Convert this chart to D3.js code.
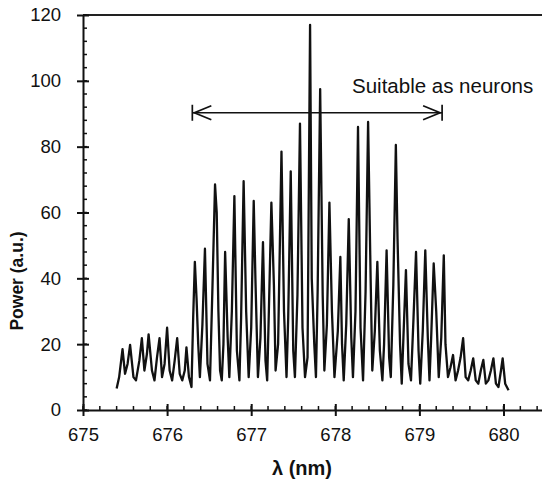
<!DOCTYPE html>
<html>
<head>
<meta charset="utf-8">
<script src="https://cdn.jsdelivr.net/npm/d3@7"></script>
<style>
  body { margin: 0; background: #fff; }
  svg text { font-family: "Liberation Sans", Arial, sans-serif; fill: #111; }
  .label { font-weight: bold; }
  .tick-label { font-size: 18.5px; }
</style>
</head>
<body>
<svg id="chart" width="542" height="484"></svg>
<script>
// spectrum vertices
const wavelength = [
  675.40, 675.43, 675.47, 675.50, 675.53, 675.56, 675.60, 675.63, 675.67, 675.70,
  675.73, 675.76, 675.78, 675.82, 675.85, 675.88, 675.91, 675.94, 675.97, 676.00,
  676.03, 676.06, 676.09, 676.12, 676.15, 676.18, 676.21, 676.23, 676.26, 676.29,
  676.31, 676.33, 676.35, 676.37, 676.39, 676.42, 676.45, 676.48, 676.51, 676.54,
  676.57, 676.59, 676.61, 676.63, 676.65, 676.67, 676.69, 676.72, 676.74, 676.77,
  676.80, 676.83, 676.86, 676.88, 676.91, 676.94, 676.97, 677.00, 677.03, 677.05,
  677.08, 677.11, 677.14, 677.17, 677.19, 677.21, 677.24, 677.27, 677.29, 677.32,
  677.36, 677.39, 677.42, 677.44, 677.47, 677.50, 677.52, 677.55, 677.58, 677.61,
  677.64, 677.67, 677.70, 677.72, 677.75, 677.77, 677.79, 677.82, 677.85, 677.87,
  677.90, 677.93, 677.96, 677.99, 678.03, 678.06, 678.08, 678.10, 678.13, 678.16,
  678.19, 678.21, 678.24, 678.27, 678.30, 678.33, 678.36, 678.39, 678.42, 678.44,
  678.47, 678.50, 678.53, 678.56, 678.58, 678.61, 678.64, 678.66, 678.69, 678.72,
  678.74, 678.77, 678.79, 678.81, 678.84, 678.87, 678.90, 678.93, 678.96, 678.99,
  679.01, 679.04, 679.07, 679.10, 679.12, 679.14, 679.17, 679.20, 679.23, 679.26,
  679.29, 679.31, 679.34, 679.37, 679.40, 679.43, 679.46, 679.49, 679.52, 679.55,
  679.58, 679.61, 679.64, 679.67, 679.70, 679.73, 679.76, 679.79, 679.82, 679.85,
  679.88, 679.91, 679.94, 679.97, 679.99, 680.02, 680.06
];
const power = [
  6.5, 10, 18.5, 11, 14, 19.8, 10, 9, 15, 21.8,
  12, 17, 23, 12, 9, 16, 21.8, 10, 14, 25,
  12, 9, 15, 21.8, 11, 9, 12, 19, 10, 7,
  28, 45, 34, 20, 10, 26, 49, 14, 9, 38,
  68.5, 60, 30, 12, 9, 20, 48, 22, 10, 30,
  65, 18, 9, 28, 69.5, 30, 10, 25, 63.5, 40,
  10, 22, 51, 15, 9, 30, 63, 38, 12, 20,
  78.5, 30, 10, 28, 72.5, 18, 10, 35, 87, 25,
  10, 16, 117, 40, 20, 10, 36, 97.5, 35, 12,
  26, 63, 30, 10, 24, 46.5, 20, 9, 26, 58,
  22, 10, 30, 86, 25, 9, 36, 87.5, 40, 12,
  24, 45, 18, 9, 20, 48.5, 16, 10, 38, 80.5,
  52, 20, 8, 22, 42.5, 14, 9, 28, 48, 18,
  8, 24, 48.5, 22, 9, 22, 44.5, 30, 10, 22,
  47, 20, 10, 13, 16.7, 9, 12, 16, 21.8, 10,
  9, 12, 15.7, 9, 8, 12, 15.2, 8, 9, 12,
  15.7, 8, 7, 12, 15.7, 8, 6
];

const xTicks = [675, 676, 677, 678, 679, 680];
const yTicks = [0, 20, 40, 60, 80, 100, 120];

// "Suitable as neurons" range arrow
const arrowRange = [676.3, 679.27];
const arrowLevel = 90.3;
const noteText = 'Suitable as neurons';

const width = 542;
const height = 484;

const xscale = d3.scaleLinear()
  .domain([675, 675 + (542 - 83) / 84.1])
  .range([83, 542]);

const yscale = d3.scaleLinear()
  .domain([0, 120])
  .range([410, 15]);

const svg = d3.select('#chart');

// frame top line
svg.append('line')
  .attr('x1', xscale(675)).attr('x2', width)
  .attr('y1', yscale(120)).attr('y2', yscale(120))
  .attr('stroke', '#222').attr('stroke-width', 2);

// minor ticks
const xMinor = d3.range(675, 680.41, 0.2);
const yMinor = d3.range(0, 120.1, 4);

svg.append('g')
  .selectAll('line')
  .data(xMinor)
  .enter().append('line')
    .attr('x1', (d) => xscale(d)).attr('x2', (d) => xscale(d))
    .attr('y1', yscale(0)).attr('y2', yscale(0) - 4)
    .attr('stroke', '#111').attr('stroke-width', 1.5);

svg.append('g')
  .selectAll('line')
  .data(yMinor)
  .enter().append('line')
    .attr('x1', xscale(675)).attr('x2', xscale(675) + 4)
    .attr('y1', (d) => yscale(d)).attr('y2', (d) => yscale(d))
    .attr('stroke', '#111').attr('stroke-width', 1.5);

// axes
const bottomAxis = d3.axisBottom(xscale)
  .tickValues(xTicks)
  .tickFormat(d3.format('d'))
  .tickSizeInner(6)
  .tickSizeOuter(0)
  .tickPadding(12);

const gx = svg.append('g')
  .attr('transform', `translate(0, ${yscale(0)})`)
  .call(bottomAxis);

gx.select('.domain').attr('stroke', '#111').attr('stroke-width', 2);
gx.selectAll('.tick line')
  .attr('y1', -6).attr('y2', 6)
  .attr('stroke', '#111').attr('stroke-width', 2);
gx.selectAll('.tick text')
  .attr('class', 'tick-label')
  .attr('font-family', null).attr('font-size', null);

const leftAxis = d3.axisLeft(yscale)
  .tickValues(yTicks)
  .tickSizeInner(6)
  .tickSizeOuter(0)
  .tickPadding(16);

const gy = svg.append('g')
  .attr('transform', `translate(${xscale(675)}, 0)`)
  .call(leftAxis);

gy.select('.domain').attr('stroke', '#111').attr('stroke-width', 2);
gy.selectAll('.tick line')
  .attr('x1', -6).attr('x2', 6)
  .attr('stroke', '#111').attr('stroke-width', 2);
gy.selectAll('.tick text')
  .attr('class', 'tick-label')
  .attr('font-family', null).attr('font-size', null);

// spectrum
const line = d3.line()
  .x((d, i) => xscale(wavelength[i]))
  .y((d) => yscale(d));

svg.append('path')
  .datum(power)
  .attr('d', line)
  .attr('fill', 'none')
  .attr('stroke', '#111')
  .attr('stroke-width', 2.3)
  .attr('stroke-linejoin', 'round');

// annotation
const ax1 = xscale(arrowRange[0]);
const ax2 = xscale(arrowRange[1]);
const ay = yscale(arrowLevel);
const note = svg.append('g')
  .attr('stroke', '#111')
  .attr('stroke-width', 1.7)
  .attr('fill', 'none');

note.append('line').attr('x1', ax1).attr('x2', ax2).attr('y1', ay).attr('y2', ay);
note.append('line').attr('x1', ax1).attr('x2', ax1).attr('y1', ay - 8).attr('y2', ay + 8);
note.append('line').attr('x1', ax2).attr('x2', ax2).attr('y1', ay - 8).attr('y2', ay + 8);
note.append('path').attr('d', `M${ax1 + 19},${ay - 7} L${ax1 + 2},${ay} L${ax1 + 19},${ay + 7}`);
note.append('path').attr('d', `M${ax2 - 19},${ay - 7} L${ax2 - 2},${ay} L${ax2 - 19},${ay + 7}`);

svg.append('text')
  .attr('x', 352)
  .attr('y', 93)
  .attr('font-size', 20.5)
  .text(noteText);

// axis titles
svg.append('text')
  .attr('class', 'label')
  .attr('text-anchor', 'middle')
  .attr('font-size', 20)
  .attr('x', 302)
  .attr('y', 475)
  .text('λ (nm)');

svg.append('text')
  .attr('class', 'label')
  .attr('text-anchor', 'middle')
  .attr('font-size', 17.5)
  .attr('transform', 'translate(23, 281) rotate(-90)')
  .text('Power  (a.u.)');
</script>
</body>
</html>
